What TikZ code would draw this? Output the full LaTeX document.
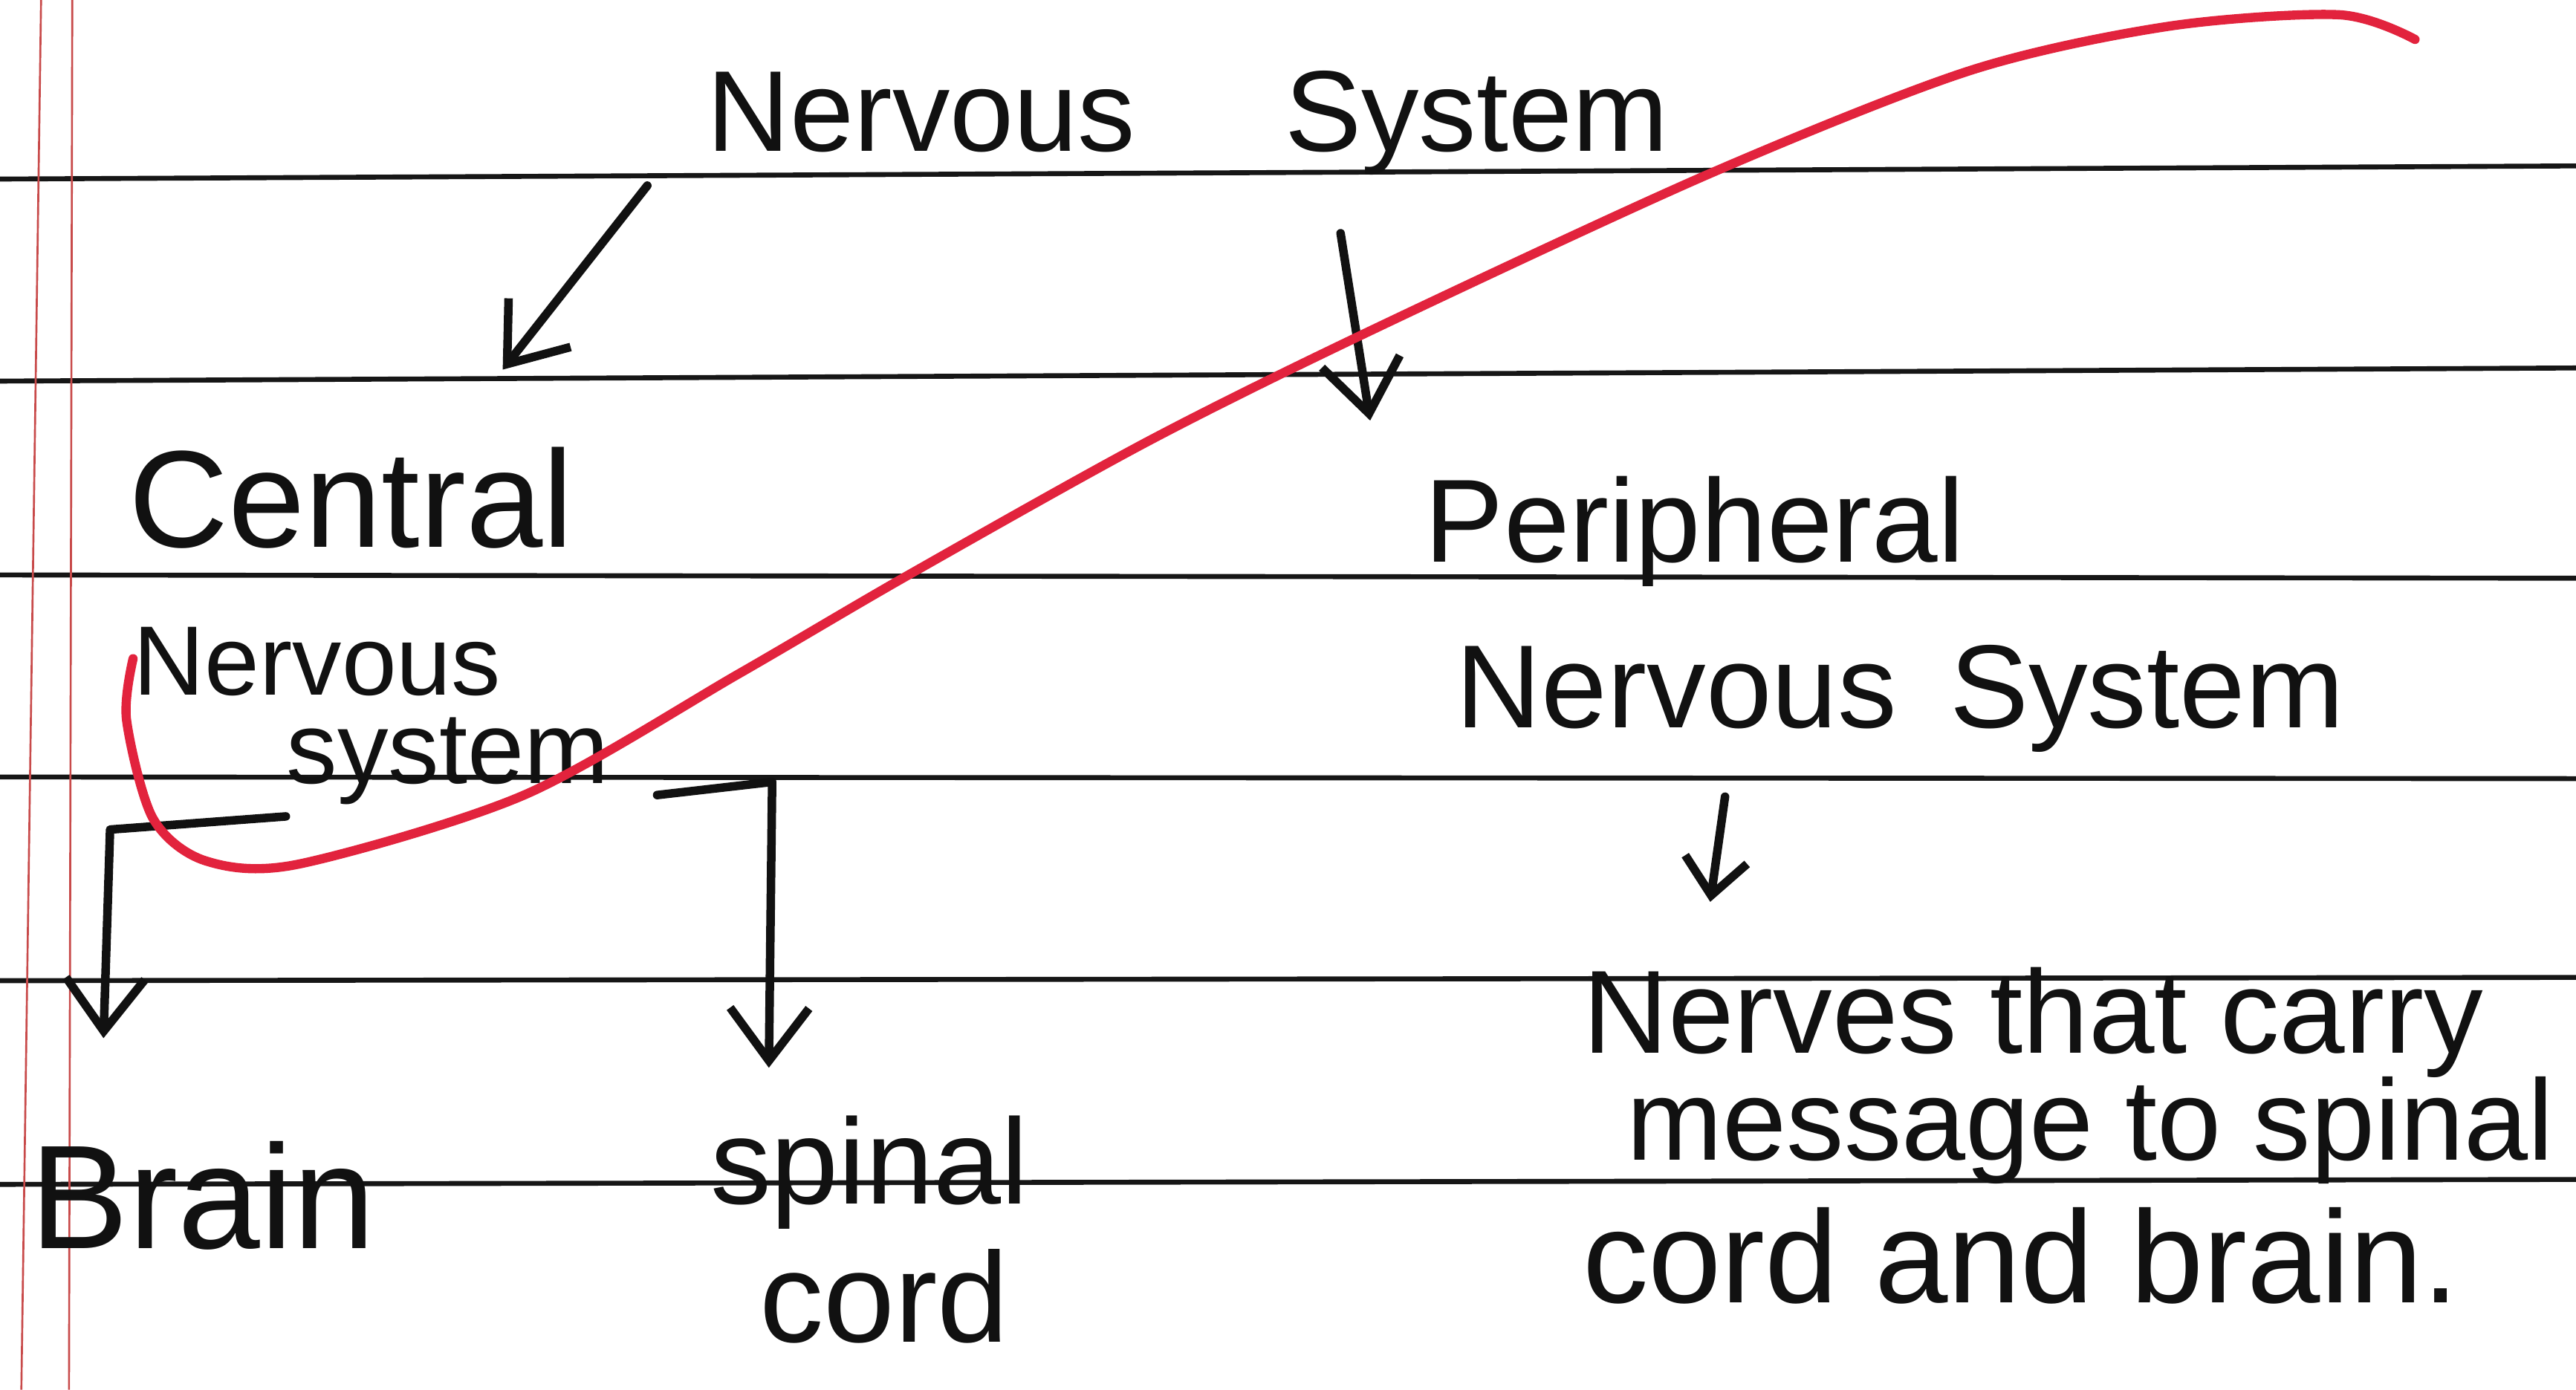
\documentclass[tikz,border=0pt]{standalone}
\usepackage{fontspec}
\setmainfont{Liberation Sans}
\usetikzlibrary{arrows.meta}
\definecolor{inkblack}{HTML}{111111}
\definecolor{ruleblack}{HTML}{161616}
\definecolor{marginred}{HTML}{C84A4A}
\definecolor{redpen}{HTML}{E2233D}
\newcommand\hfsize[1]{\fontsize{#1}{#1}\selectfont}
\begin{document}
\begin{tikzpicture}[x=0.5pt,y=-0.5pt,
  ink/.style={draw=inkblack, line width=2.6pt, line cap=round, line join=round},
  rule/.style={draw=ruleblack, line width=1.5pt},
  margin/.style={draw=marginred, line width=0.6pt},
  pen/.style={draw=redpen, line width=2.8pt, line cap=round, line join=round},
  word/.style={inner sep=0pt, anchor=base west, text=inkblack},
  tip/.style={-{Straight Barb[length=16pt,width=24pt]}},
  smalltip/.style={-{Straight Barb[length=11pt,width=19pt]}}
]
% paper
\fill[white] (0,0) rectangle (1568,846);
\useasboundingbox (0,0) rectangle (1568,846);

% ruled lines
\draw[rule] (0,109) -- (1568,101);
\draw[rule] (0,232) -- (1568,224);
\draw[rule] (0,350) -- (1568,352);
\draw[rule] (0,473) -- (1568,474);
\draw[rule] (0,597) -- (1568,595);
\draw[rule] (0,721) -- (1568,718);

% margin
\draw[margin] (25,0) -- (13,846);
\draw[margin] (44,0) -- (42,846);

% labels
\node[word] (title) at (430,92) {\hfsize{35}Nervous\hspace{1.3em}System};
\node[word] (cns1) at (78,333) {\hfsize{42}Central};
\node[word] (cns2) at (81,423) {\hfsize{30}Nervous};
\node[word] (cns3) at (174,477) {\hfsize{31}system};
\node[word] (brain) at (18,760) {\hfsize{45}Brain};
\node[word] (spinal1) at (432,733) {\hfsize{37}spinal};
\node[word] (spinal2) at (462,817) {\hfsize{39}cord};
\node[word] (pns1) at (867,342) {\hfsize{36}Peripheral};
\node[word] (pns2) at (886,443) {\hfsize{36}Nervous\hspace{0.45em}System};
\node[word] (desc1) at (963,641) {\hfsize{36}Nerves that carry};
\node[word] (desc2) at (990,706) {\hfsize{35}message to spinal};
\node[word] (desc3) at (963,793) {\hfsize{40}cord and brain.};

% arrow ends
\coordinate (ns-l) at (394,113);
\coordinate (cns-top) at (306,225);
\coordinate (ns-r) at (816,142);
\coordinate (pns-top) at (834,256);
\coordinate (cns-l0) at (174,497);
\coordinate (cns-l1) at (67,505);
\coordinate (brain-top) at (63,632);
\coordinate (cns-r0) at (400,484);
\coordinate (cns-r1) at (470,476);
\coordinate (spinal-top) at (468,650);
\coordinate (pns-bot) at (1050,485);
\coordinate (desc-top) at (1041,549);

% connectors
\draw[ink,tip] (ns-l) -- (cns-top);
\draw[ink,tip] (ns-r) -- (pns-top);
\draw[ink,tip] (cns-l0) -- (cns-l1) -- (brain-top);
\draw[ink,tip] (cns-r0) -- (cns-r1) -- (spinal-top);
\draw[ink,smalltip] (pns-bot) -- (desc-top);

% red pen stroke
\draw[pen] plot[smooth, tension=0.5] coordinates {(81,401) (77,438) (93,498) (125,524) (182,526) (319,484) (450,410) (553,350) (700,268) (837,200) (1040,106) (1199,43) (1320,16) (1424,9) (1470,24)};
\end{tikzpicture}
\end{document}
